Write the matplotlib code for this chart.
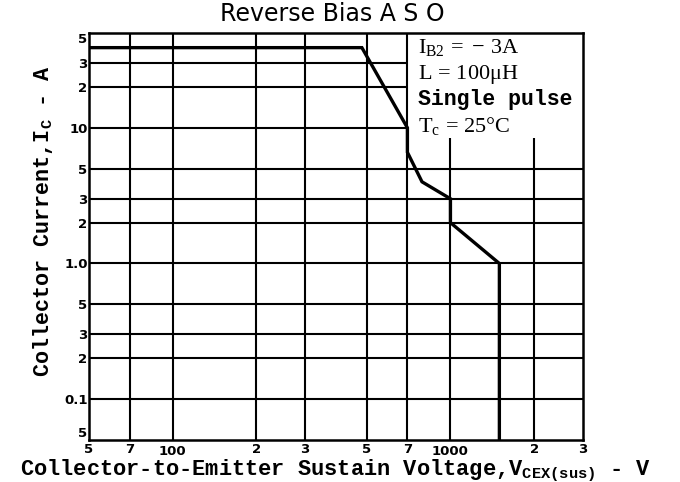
import matplotlib
matplotlib.use("Agg")
import matplotlib.pyplot as plt

# ---- data ----
curve_v = [50, 480, 700, 700, 790, 1000, 1000, 1500, 1500]
curve_i = [39, 39, 10, 6.6, 4.0, 3.0, 2.0, 1.0, 0.05]

xticks = [50, 70, 100, 200, 300, 500, 700, 1000, 2000, 3000]
xticklabels = ["5", "7", "100", "2", "3", "5", "7", "1000", "2", "3"]
yticks = [50, 30, 20, 10, 5, 3, 2, 1.0, 0.5, 0.3, 0.2, 0.1, 0.05]
yticklabels = ["5", "3", "2", "10", "5", "3", "2", "1.0", "5", "3", "2", "0.1", "5"]

x_grid_full = [70, 100, 200, 300, 500, 700]
x_grid_short = [1000, 2000]
y_grid_full = [5, 3, 2, 1.0, 0.5, 0.3, 0.2, 0.1]
y_grid_short = [30, 20, 10]

box_lines = [r"I$_{\mathrm{B2}}$$\,=\,-\,$3A", r"L$\,=\,$100$\mathrm{\mu}$H", "Single pulse", r"T$_{\mathrm{c}}$$\,=\,$25°C"]

plt.rcParams['mathtext.fontset'] = 'custom'
plt.rcParams['mathtext.rm'] = 'Liberation Serif'
plt.rcParams['mathtext.tt'] = 'Liberation Mono:bold'
plt.rcParams['mathtext.it'] = 'Liberation Serif:italic'

fig = plt.figure(figsize=(6.8, 4.82), dpi=100)
ax = fig.add_axes([89/680, 1-440/482, (583-89)/680, (440-33)/482])
ax.set_xscale("log")
ax.set_yscale("log")
ax.set_xlim(50, 3000)
ax.set_ylim(0.05, 50)

gl = 1.5
ax.vlines(x_grid_full, 0.05, 50, colors="black", linewidth=gl)
ax.vlines(x_grid_short, 0.05, 8.4, colors="black", linewidth=gl)
ax.hlines(y_grid_full, 50, 3000, colors="black", linewidth=gl)
ax.hlines(y_grid_short, 50, 700, colors="black", linewidth=gl)

ax.plot(curve_v, curve_i, color="black", linewidth=2.4, solid_joinstyle="miter")

for s in ax.spines.values():
    s.set_linewidth(1.8)

ax.minorticks_off()
ax.set_xticks(xticks)
ax.set_xticklabels(xticklabels, fontsize=9.5, fontweight="bold", family="DejaVu Sans")
ax.set_yticks(yticks)
ax.set_yticklabels(yticklabels, fontsize=9.5, fontweight="bold", family="DejaVu Sans")
ax.tick_params(axis="x", length=0, pad=2)
ax.tick_params(axis="y", length=0, pad=1)
for lab, t in zip(ax.get_xticklabels(), xticklabels):
    if t in ("100", "1000"):
        lab.set_y(-0.006)
ylabs = ax.get_yticklabels()
ylabs[-1].set_va("bottom")
ylabs[0].set_va("top")

fig.text(332/680, 1 - 14/482, "Reverse Bias A S O", fontsize=17, family="DejaVu Sans",
         ha="center", va="center")
fig.text(43/680, 1 - 221/482, r"Collector Current,I$_{\mathtt{C}}$ - A", fontsize=15.7,
         family="Liberation Mono", fontweight="bold", rotation=90, ha="center", va="center")
fig.text(336/680, 1 - 475/482, r"Collector-to-Emitter Sustain Voltage,V$_{\mathtt{CEX(sus)}}$ - V",
         fontsize=15.8, family="Liberation Mono", fontweight="bold", ha="center", va="baseline")

ys = [47, 74, 100, 126]
for t, yp in zip(box_lines, ys):
    mono = t == "Single pulse"
    fig.text(418/680, 1 - yp/482, t, fontsize=15.5 if mono else 16,
             family="Liberation Mono" if mono else "Liberation Serif",
             fontweight="bold" if mono else "normal", ha="left", va="center")

fig.savefig("out.png", dpi=100)
